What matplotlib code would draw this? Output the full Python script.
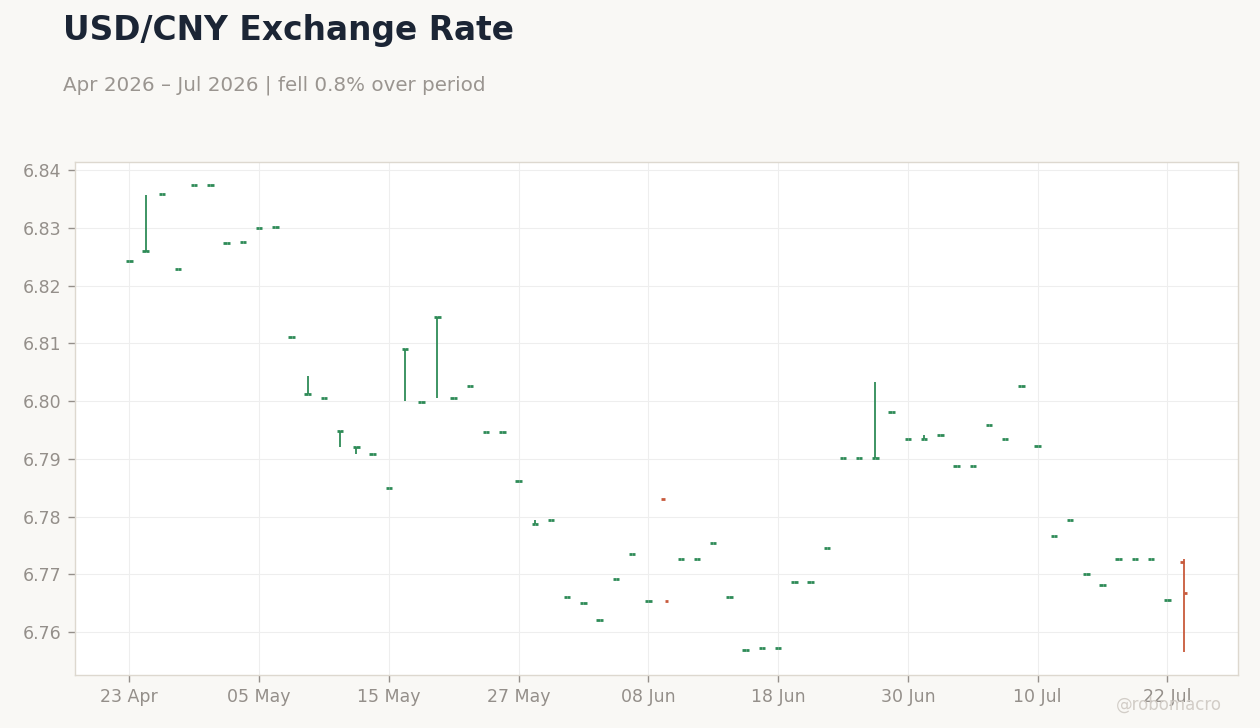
import matplotlib
matplotlib.use("Agg")
import matplotlib.pyplot as plt
import numpy as np
import pandas as pd

# daily USD/CNY bars (business days from 23 Apr 2026)
start_date = "2026-04-23"
opens = [6.8243, 6.8260, 6.8359, 6.8229, 6.8374, 6.8374, 6.8274, 6.8276, 6.8300, 6.8302,
         6.8111, 6.8013, 6.8005, 6.7948, 6.7920, 6.7908, 6.7850, 6.8091, 6.7999, 6.8145,
         6.8005, 6.8026, 6.7946, 6.7946, 6.7861, 6.7788, 6.7795, 6.7661, 6.7651, 6.7621,
         6.7692, 6.7736, 6.7654, 6.7831, 6.7726, 6.7726, 6.7754, 6.7660, 6.7569, 6.7573,
         6.7573, 6.7686, 6.7686, 6.7745, 6.7901, 6.7901, 6.7901, 6.7981, 6.7935, 6.7935,
         6.7942, 6.7887, 6.7887, 6.7958, 6.7934, 6.8026, 6.7922, 6.7766, 6.7795, 6.7700,
         6.7682, 6.7726, 6.7726, 6.7726, 6.7656, 6.7721]
highs = [6.8243, 6.8358, 6.8359, 6.8229, 6.8374, 6.8374, 6.8274, 6.8276, 6.8300, 6.8302,
         6.8111, 6.8044, 6.8005, 6.7948, 6.7920, 6.7908, 6.7850, 6.8091, 6.7999, 6.8145,
         6.8005, 6.8026, 6.7946, 6.7946, 6.7861, 6.7794, 6.7795, 6.7661, 6.7651, 6.7621,
         6.7692, 6.7736, 6.7654, np.nan, 6.7726, 6.7726, 6.7754, 6.7660, 6.7569, 6.7573,
         6.7573, 6.7686, 6.7686, 6.7745, 6.7901, 6.7901, 6.8034, 6.7981, 6.7935, 6.7941,
         6.7942, 6.7887, 6.7887, 6.7958, 6.7934, 6.8026, 6.7922, 6.7766, 6.7795, 6.7700,
         6.7682, 6.7726, 6.7726, 6.7726, 6.7656, 6.7726]
lows = [6.8243, 6.8259, 6.8359, 6.8229, 6.8374, 6.8374, 6.8274, 6.8276, 6.8300, 6.8302,
        6.8111, 6.8013, 6.8005, 6.7920, 6.7908, 6.7908, 6.7850, 6.8000, 6.7999, 6.8005,
        6.8005, 6.8026, 6.7946, 6.7946, 6.7861, 6.7788, 6.7795, 6.7661, 6.7651, 6.7621,
        6.7692, 6.7736, 6.7654, np.nan, 6.7726, 6.7726, 6.7754, 6.7660, 6.7569, 6.7573,
        6.7573, 6.7686, 6.7686, 6.7745, 6.7901, 6.7901, 6.7901, 6.7981, 6.7935, 6.7935,
        6.7942, 6.7887, 6.7887, 6.7958, 6.7934, 6.8026, 6.7922, 6.7766, 6.7795, 6.7700,
        6.7682, 6.7726, 6.7726, 6.7726, 6.7656, 6.7566]
closes = [6.8243, 6.8260, 6.8359, 6.8229, 6.8374, 6.8374, 6.8274, 6.8276, 6.8300, 6.8302,
          6.8111, 6.8013, 6.8005, 6.7948, 6.7920, 6.7908, 6.7850, 6.8091, 6.7999, 6.8145,
          6.8005, 6.8026, 6.7946, 6.7946, 6.7861, 6.7788, 6.7795, 6.7661, 6.7651, 6.7621,
          6.7692, 6.7736, 6.7654, 6.7654, 6.7726, 6.7726, 6.7754, 6.7660, 6.7569, 6.7573,
          6.7573, 6.7686, 6.7686, 6.7745, 6.7901, 6.7901, 6.7901, 6.7981, 6.7935, 6.7935,
          6.7942, 6.7887, 6.7887, 6.7958, 6.7934, 6.8026, 6.7922, 6.7766, 6.7795, 6.7700,
          6.7682, 6.7726, 6.7726, 6.7726, 6.7656, 6.7667]

title = "USD/CNY Exchange Rate"
subtitle = "Apr 2026 – Jul 2026 | fell 0.8% over period"

UP = "#2e8b57"
DOWN = "#c85a3c"
BG = "#f9f8f5"

dates = pd.bdate_range(start_date, periods=len(opens))
x = np.arange(len(opens))
o = np.array(opens); c = np.array(closes)
cols = [UP if cc >= oo else DOWN for oo, cc in zip(o, c)]

fig = plt.figure(figsize=(12.6, 7.28), dpi=100, facecolor=BG)
ax = fig.add_axes([0.0595, 0.0728, 0.923, 0.7047])
ax.set_facecolor("white")

w = 0.2
ax.vlines(x, lows, highs, colors=cols, lw=1.3, capstyle="butt")
ax.hlines(o, x - w, x, colors=cols, lw=2, capstyle="butt")
ax.hlines(c, x, x + w, colors=cols, lw=2, capstyle="butt")

ax.set_xlim(-3.35, len(x) - 1 + 3.35)
ax.margins(y=0.05)

ticks = x[::8]
ax.set_xticks(ticks)
ax.set_xticklabels([dates[i].strftime("%d %b") for i in ticks])
ax.set_yticks([6.76, 6.77, 6.78, 6.79, 6.80, 6.81, 6.82, 6.83, 6.84])
ax.yaxis.set_major_formatter(matplotlib.ticker.FormatStrFormatter("%.2f"))

ax.grid(True, color="#eeeeee", lw=0.8)
ax.set_axisbelow(True)
for s in ax.spines.values():
    s.set_color("#ddd8cf")
    s.set_linewidth(1)
ax.tick_params(colors="#948f8a", labelsize=12.5, length=5, width=1, pad=5)
ax.tick_params(axis="x", pad=4)

fig.text(0.05, 0.958, title, fontsize=23.7, fontweight="bold", color="#1b2535", va="center")
fig.text(0.05, 0.883, subtitle, fontsize=14.3, color="#9a9590", va="center")
fig.text(0.97, 0.032, "@robomacro", fontsize=12, color="#d2cdc7", ha="right", va="center")

fig.savefig("out.png", dpi=100, facecolor=BG)
